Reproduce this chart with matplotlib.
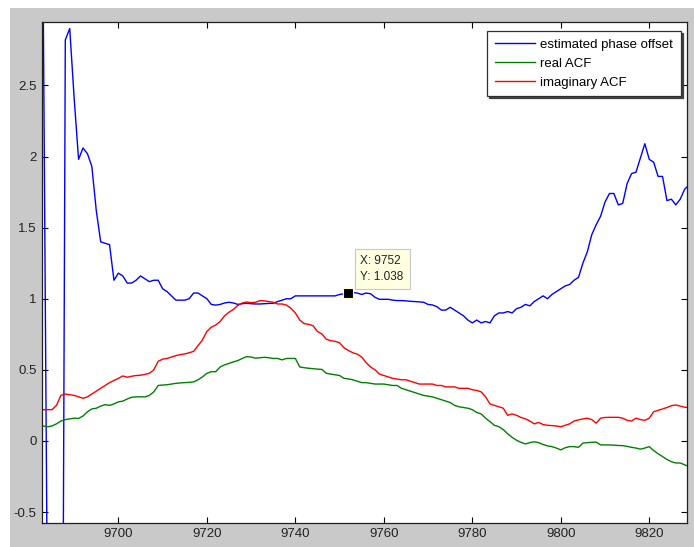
import numpy as np
import matplotlib
matplotlib.use("Agg")
import matplotlib.pyplot as plt
from matplotlib.patches import Rectangle

# sample index range
t_start = 9683
t_stop = 9829

phase_offset = [
    3.15, -1.4, -2.5, -3.5, -5.0, 2.82, 2.90, 2.41, 1.98, 2.06,
    2.02, 1.93, 1.62, 1.40, 1.39, 1.38, 1.13, 1.18, 1.16, 1.11,
    1.11, 1.13, 1.16, 1.14, 1.12, 1.13, 1.13, 1.07, 1.05, 1.02,
    0.99, 0.99, 0.99, 1.00, 1.04, 1.04, 1.02, 1.00, 0.96, 0.955,
    0.96, 0.97, 0.975, 0.97, 0.96, 0.965, 0.968, 0.965, 0.963, 0.963,
    0.965, 0.967, 0.968, 0.98, 0.99, 1.00, 1.00, 1.02, 1.02, 1.02,
    1.02, 1.02, 1.02, 1.02, 1.02, 1.02, 1.02, 1.03, 1.035, 1.038,
    1.043, 1.04, 1.03, 1.04, 1.035, 1.01, 0.996, 0.996, 0.996, 0.99,
    0.987, 0.987, 0.985, 0.982, 0.98, 0.978, 0.975, 0.96, 0.956, 0.944,
    0.92, 0.92, 0.94, 0.92, 0.90, 0.88, 0.85, 0.83, 0.85, 0.83,
    0.84, 0.83, 0.88, 0.90, 0.90, 0.91, 0.90, 0.93, 0.94, 0.96,
    0.95, 0.98, 1.00, 1.02, 1.00, 1.03, 1.05, 1.07, 1.09, 1.10,
    1.13, 1.15, 1.25, 1.33, 1.45, 1.52, 1.58, 1.68, 1.74, 1.74,
    1.66, 1.67, 1.81, 1.88, 1.89, 1.99, 2.09, 1.98, 1.96, 1.86,
    1.86, 1.69, 1.70, 1.66, 1.70, 1.77, 1.80,
]

real_acf = [
    0.105, 0.10, 0.105, 0.12, 0.14, 0.15, 0.155, 0.16, 0.158, 0.175,
    0.205, 0.225, 0.23, 0.245, 0.255, 0.25, 0.26, 0.275, 0.28, 0.295,
    0.307, 0.31, 0.31, 0.31, 0.32, 0.345, 0.39, 0.393, 0.395, 0.40,
    0.405, 0.408, 0.41, 0.412, 0.415, 0.43, 0.45, 0.475, 0.487, 0.487,
    0.52, 0.535, 0.545, 0.556, 0.565, 0.58, 0.593, 0.59, 0.582, 0.585,
    0.588, 0.585, 0.58, 0.58, 0.57, 0.58, 0.58, 0.58, 0.52, 0.515,
    0.511, 0.508, 0.505, 0.503, 0.476, 0.47, 0.465, 0.46, 0.44, 0.436,
    0.43, 0.42, 0.41, 0.41, 0.405, 0.40, 0.40, 0.40, 0.395, 0.39,
    0.39, 0.37, 0.36, 0.35, 0.34, 0.33, 0.32, 0.315, 0.31, 0.30,
    0.29, 0.28, 0.27, 0.25, 0.24, 0.235, 0.23, 0.22, 0.20, 0.19,
    0.16, 0.135, 0.11, 0.10, 0.08, 0.05, 0.025, 0.005, -0.01, -0.021,
    -0.012, -0.006, -0.012, -0.025, -0.035, -0.04, -0.05, -0.063, -0.048, -0.04,
    -0.04, -0.045, -0.015, -0.012, -0.01, -0.008, -0.028, -0.028, -0.028, -0.03,
    -0.032, -0.033, -0.038, -0.045, -0.05, -0.058, -0.05, -0.04, -0.068, -0.09,
    -0.11, -0.13, -0.146, -0.155, -0.155, -0.168, -0.18,
]

imag_acf = [
    0.22, 0.22, 0.22, 0.25, 0.32, 0.33, 0.325, 0.32, 0.31, 0.30,
    0.31, 0.33, 0.35, 0.37, 0.39, 0.41, 0.425, 0.44, 0.457, 0.448,
    0.455, 0.46, 0.462, 0.468, 0.475, 0.50, 0.56, 0.575, 0.58, 0.59,
    0.60, 0.607, 0.612, 0.62, 0.63, 0.67, 0.71, 0.77, 0.80, 0.815,
    0.84, 0.88, 0.905, 0.925, 0.953, 0.97, 0.977, 0.972, 0.975, 0.987,
    0.985, 0.98, 0.975, 0.963, 0.963, 0.955, 0.933, 0.90, 0.85, 0.825,
    0.82, 0.81, 0.77, 0.752, 0.715, 0.705, 0.70, 0.69, 0.655, 0.636,
    0.62, 0.61, 0.59, 0.55, 0.52, 0.50, 0.47, 0.46, 0.45, 0.44,
    0.435, 0.43, 0.43, 0.42, 0.41, 0.40, 0.40, 0.40, 0.40, 0.39,
    0.39, 0.38, 0.38, 0.38, 0.37, 0.37, 0.37, 0.36, 0.355, 0.345,
    0.31, 0.26, 0.25, 0.24, 0.23, 0.18, 0.19, 0.18, 0.165, 0.155,
    0.14, 0.12, 0.13, 0.115, 0.11, 0.108, 0.105, 0.10, 0.11, 0.12,
    0.14, 0.148, 0.155, 0.16, 0.15, 0.125, 0.16, 0.165, 0.166, 0.166,
    0.166, 0.16, 0.145, 0.14, 0.16, 0.15, 0.145, 0.16, 0.205, 0.215,
    0.225, 0.235, 0.248, 0.253, 0.245, 0.237, 0.235,
]

legend_labels = ["estimated phase offset", "real ACF", "imaginary ACF"]
x_ticks = [9700, 9720, 9740, 9760, 9780, 9800, 9820]
y_ticks = [-0.5, 0, 0.5, 1, 1.5, 2, 2.5]
tip_x, tip_y = 9752, 1.038

t = np.arange(t_start, t_stop + 1)

plt.rcParams["font.family"] = ["Liberation Sans", "DejaVu Sans"]

W, H = 694, 547
fig = plt.figure(figsize=(W / 100, H / 100), dpi=100, facecolor="#c9c9c9")

# white screen border strips at top and left
fig.patches.append(Rectangle((0, 1 - 8 / H), 1, 8 / H, transform=fig.transFigure,
                             facecolor="white", edgecolor="none", zorder=0))
fig.patches.append(Rectangle((0, 0), 10 / W, 1, transform=fig.transFigure,
                             facecolor="white", edgecolor="none", zorder=0))

ax = fig.add_axes([42.3 / W, 1 - 522.7 / H, (687.3 - 42.3) / W, (522.7 - 22) / H])
ax.set_facecolor("white")

lw = 1.0
ax.plot(t, phase_offset, color=(0, 0, 1), lw=lw, label=legend_labels[0])
ax.plot(t, real_acf, color=(0, 0.5, 0), lw=lw, label=legend_labels[1])
ax.plot(t, imag_acf, color=(1, 0, 0), lw=lw, label=legend_labels[2])

ax.set_xlim(9682.8, 9828.6)
ax.set_ylim(-0.575, 2.946)
ax.set_xticks(x_ticks)
ax.set_yticks(y_ticks)
ax.set_yticklabels(["-0.5", "0", "0.5", "1", "1.5", "2", "2.5"])
ax.tick_params(direction="in", length=4.3, width=0.8, top=True, right=True,
               labelsize=9.5, labelcolor="#222222", pad=4)
for s in ax.spines.values():
    s.set_linewidth(0.9)
    s.set_color("#202020")

leg = ax.legend(loc="upper right", bbox_to_anchor=(681 / W, 1 - 31 / H),
                bbox_transform=fig.transFigure, borderaxespad=0,
                fontsize=9.5, frameon=True, fancybox=False, framealpha=1,
                edgecolor="#303030", handlelength=3.0, handletextpad=0.45,
                labelspacing=0.5, borderpad=0.58,
                shadow={"color": "#404040", "alpha": 1.0, "ox": 1.5, "oy": -1.5})
leg.get_frame().set_linewidth(0.9)

# data cursor
ax.plot([tip_x], [tip_y], marker="s", ms=6.5, color="black", mec="#ffffcc", mew=0.8,
        zorder=5)
ax.annotate(f"X: {tip_x}\nY: {tip_y}", xy=(tip_x, tip_y), xytext=(12, 10),
            textcoords="offset pixels", ha="left", va="bottom", fontsize=8.5,
            color="#222222", linespacing=1.45,
            bbox=dict(boxstyle="square,pad=0.5", facecolor="#ffffe1",
                      edgecolor="#c8c8c8", linewidth=0.8), zorder=6)

fig.savefig("out.png", dpi=100, facecolor=fig.get_facecolor())
